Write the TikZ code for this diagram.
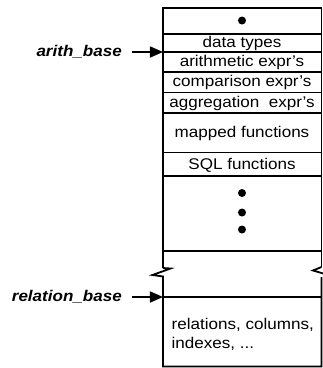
\documentclass[tikz,border=0pt]{standalone}
\usepackage{fontspec}
\setmainfont{Liberation Sans}[FakeStretch=1.1]
\usetikzlibrary{arrows.meta}
\begin{document}
\begin{tikzpicture}[x=1pt,y=-1pt,
  wall/.style={line width=1.8pt},
  rule/.style={line width=1.6pt},
  cell/.style={inner sep=0pt,font=\fontsize{15.5}{19}\selectfont},
  ptr/.style={font=\fontsize{15.5}{18}\selectfont\bfseries\itshape,inner sep=0pt},
  link/.style={line width=1.6pt,-{Triangle[length=13pt,width=11pt]}},
  dot/.style={circle,fill=black,inner sep=0pt,minimum size=8pt}]
\useasboundingbox (0,0) rectangle (323,368);

% outer frame with the break marks
\draw[wall] (163,268) -- (163,8) -- (321.5,8) -- (321.5,267);
\draw[wall] (163,268) -- (170.5,268.5) -- (152.5,275) -- (163,276.5) -- (163,366.5) -- (321.5,366.5) -- (321.5,277);
\draw[wall] (321.5,267) -- (313,270.5) -- (325,274);

% row separators
\foreach \yy in {34,52,72,92.5,113,152.5,176,251,297}
  \draw[rule] (163,\yy) -- (321.5,\yy);

% cells
\node[dot] (d0) at (242,20.5) {};
\node[cell] (t1) at (242,43.5) {data types};
\node[cell] (t2) at (242,62.5) {arithmetic expr's};
\node[cell] (t3) at (242,82.5) {comparison expr's};
\node[cell] (t4) at (242,103) {aggregation\ \ expr's};
\node[cell] (t5) at (242,133.5) {mapped functions};
\node[cell] (t6) at (242,165) {SQL functions};
\node[dot] (d1) at (242,193) {};
\node[dot] (d2) at (242,212.5) {};
\node[dot] (d3) at (242,229.5) {};
\node[cell,align=left,anchor=north west] (t7) at (171.5,318.5) {relations, columns,\\indexes, ...};

% base pointers
\coordinate (ab) at (163,52);
\coordinate (rb) at (163,297);
\node[ptr,anchor=east] (arith) at (122,52) {arith\_base};
\node[ptr,anchor=east] (rel) at (122,297) {relation\_base};
\draw[link] ([xshift=10pt]arith.east) -- (ab);
\draw[link] ([xshift=10pt]rel.east) -- (rb);
\end{tikzpicture}
\end{document}
